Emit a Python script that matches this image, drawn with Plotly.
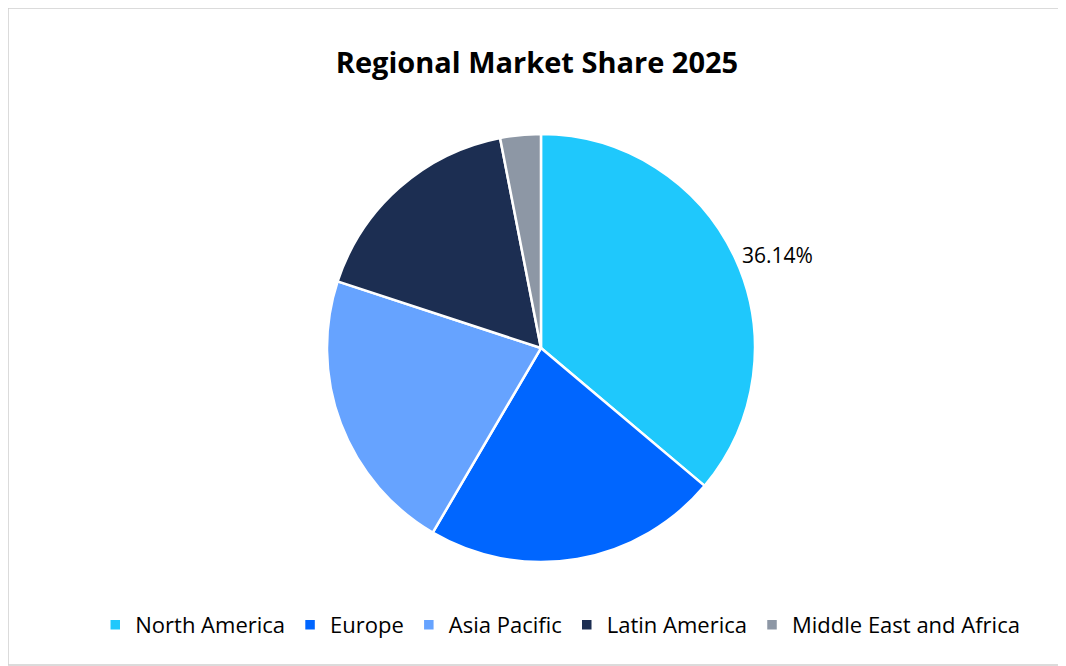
import plotly.graph_objects as go

regions = ["North America", "Europe", "Asia Pacific", "Latin America", "Middle East and Africa"]
shares = [36.14, 22.3, 21.6, 16.9, 3.06]
labels_shown = ["36.14%", "", "", "", ""]
colors = ["#1FC8FC", "#0066FF", "#66A3FF", "#1C2E52", "#8D97A5"]

fig = go.Figure(go.Pie(
    labels=regions, values=shares, sort=False, direction="clockwise", rotation=0,
    marker=dict(colors=colors, line=dict(color="white", width=2.5)),
    text=labels_shown, texttemplate="%{text}", textposition="outside",
    textfont=dict(size=21, color="#000000", family="Open Sans"),
    domain=dict(x=[0.3015, 0.706], y=[0.158, 0.8085]),
    hoverinfo="label+percent",
))
fig.update_layout(
    width=1058, height=658, margin=dict(l=0, r=0, t=0, b=0),
    paper_bgcolor="white",
    title=dict(text="<b>Regional Market Share 2025</b>", x=0.5, xanchor="center", y=0.916, yanchor="middle",
               font=dict(size=29, color="#000000", family="Open Sans")),
    legend=dict(orientation="h", x=0.522, xanchor="center", y=0.0623, yanchor="middle",
                font=dict(size=22, color="#000000", family="Open Sans"), itemwidth=30),
    shapes=[dict(type="rect", xref="paper", yref="paper", x0=0.0, x1=0.999, y0=0.0015, y1=1.0,
                 line=dict(color="#D0D0D0", width=1.5))],
)
fig.write_html("out.html")
